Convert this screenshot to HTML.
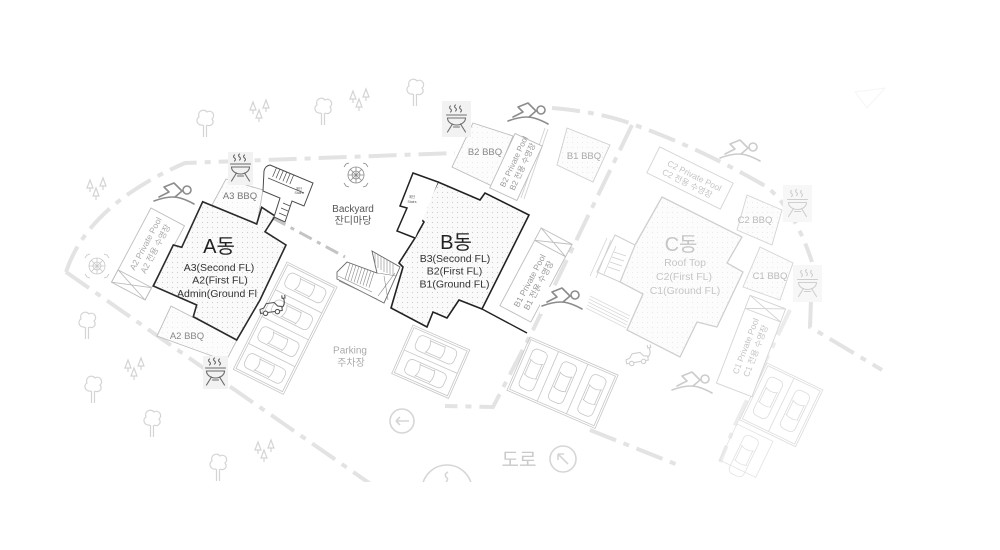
<!DOCTYPE html>
<html><head><meta charset="utf-8"><title>site plan</title>
<style>
html,body{margin:0;padding:0;background:#fff;width:1000px;height:550px;overflow:hidden}
svg{display:block}
text{font-family:"Liberation Sans","Noto Sans CJK KR",sans-serif}
</style></head><body>
<svg width="1000" height="550" viewBox="0 0 1000 550" xmlns="http://www.w3.org/2000/svg">
<defs>
 <pattern id="dots" width="5" height="5" patternUnits="userSpaceOnUse"><rect width="5" height="5" fill="#fafafa"/><circle cx="2.5" cy="2.5" r="0.6" fill="#cdcdcd"/></pattern>
 <pattern id="dotsL" width="5" height="5" patternUnits="userSpaceOnUse"><rect width="5" height="5" fill="#fcfcfc"/><circle cx="2.5" cy="2.5" r="0.5" fill="#e4e4e4"/></pattern>
 <clipPath id="clipAll"><rect x="0" y="0" width="1000" height="482"/></clipPath>
 <g id="bbq" fill="none" stroke-linecap="round">
  <path d="M-6,-13 q-2,1.5 0,3 q2,1.5 0,3 M-1,-14 q-2,1.5 0,3 q2,1.5 0,3 M4,-13 q-2,1.5 0,3 q2,1.5 0,3"/>
  <path d="M-10,-4 H10"/>
  <path d="M-9,-1 H9 A9,7 0 0 1 -9,-1 Z"/>
  <path d="M-4,5 L-9,13 M4,5 L9,13 M-3,8 L3,8"/>
 </g>
 <g id="swim" fill="none" stroke-linecap="round" stroke-linejoin="round">
  <circle cx="13" cy="-5" r="4"/>
  <path d="M-15,2 L-5,-3 L-10,-8 L0,-12 L8,-4 L1,2"/>
  <path d="M-20,6 Q-4,0 6,3 Q13,5 20,9"/>
 </g>
 <g id="tree" fill="none">
  <path d="M-2,3 C-8,4 -10,-3 -6,-5 C-8,-11 -1,-14 2,-10 C7,-13 11,-6 7,-3 C10,1 6,5 2,3"/>
  <path d="M-1.5,3 V15 M1.5,3 V15"/>
 </g>
 <g id="pines" fill="none">
  <path d="M-10,0 L-7,-8 L-4,0 Z M-7,0 V4 M3,-2 L6,-10 L9,-2 Z M6,-2 V2 M-4,8 L-1,0 L2,8 Z M-1,8 V12"/>
 </g>
 <g id="table" fill="none">
  <circle r="8"/><circle r="4"/>
  <path d="M-8,0 H8 M0,-8 V8 M-5.6,-5.6 L5.6,5.6 M-5.6,5.6 L5.6,-5.6"/>
  <path d="M-12,-8 L-10,-11 L-7,-12 M12,-8 L10,-11 L7,-12 M-12,8 L-10,11 L-7,12 M12,8 L10,11 L7,12"/>
 </g>
 <g id="ev" fill="none" stroke-linejoin="round">
  <path d="M-11,3 L-11,-1 L-7,-2 L-4,-6 L4,-6 L7,-2 L11,-1 L11,3 Z"/>
  <circle cx="-6" cy="3.5" r="2.2" fill="#fff"/><circle cx="6" cy="3.5" r="2.2" fill="#fff"/>
  <path d="M11,0 Q15,-2 14,-9 M12.5,-9 v-3 M15.5,-9 v-3 M12,-9 h4"/>
 </g>
 <g id="pcar" fill="none">
  <rect x="-21" y="-8" width="42" height="16" rx="5"/>
  <path d="M-9,-7 Q-5,0 -9,7 M7,-7 Q10,0 7,7 M-9,-6 H7 M-9,6 H7"/>
 </g>
</defs>

<g clip-path="url(#clipAll)">
<!-- boundaries -->
<g fill="none" stroke="#e3e3e3" stroke-width="4" stroke-dasharray="28 8 6 8">
 <path d="M66,272 Q88,205 185,163 L455,153"/>
 <path d="M66,272 L235,390 L372,485"/>
 <path d="M552,108 Q600,112 632,124 Q700,148 767,187 Q795,210 812,262"/>
 <path d="M811,300 L810,327 L882,370"/>
 <path d="M632,125 L533,330 L493,407 L445,406"/>
 <path d="M590,430 L683,467"/>
 <path d="M790,310 L735,425 L720,462" stroke="#ececec"/>
</g>
<path d="M273,218 L345,257" stroke="#c4c4c4" stroke-width="3" fill="none" stroke-dasharray="14 6 4 6"/>

<!-- trees -->
<g stroke="#d4d4d4" stroke-width="1.2">
 <use href="#tree" x="205" y="122"/>
 <use href="#tree" x="323" y="110"/>
 <use href="#tree" x="415" y="91"/>
 <use href="#tree" x="87" y="324"/>
 <use href="#tree" x="93" y="388"/>
 <use href="#tree" x="152" y="422"/>
 <use href="#tree" x="218" y="466"/>
 <use href="#pines" x="260" y="110"/>
 <use href="#pines" x="360" y="99"/>
 <use href="#pines" x="97" y="188"/>
 <use href="#pines" x="135" y="368"/>
 <use href="#pines" x="265" y="450"/>
</g>

<!-- parking lots -->
<g fill="none" stroke="#c6c6c6" stroke-width="0.8">
 <g transform="translate(287,262) rotate(26.6)">
  <rect x="0" y="0" width="56" height="120"/><rect x="2" y="2" width="52" height="116"/>
  <path d="M2,30 H54 M2,60 H54 M2,90 H54"/>
  <use href="#pcar" x="28" y="15"/><use href="#pcar" x="28" y="45"/><use href="#pcar" x="28" y="75"/><use href="#pcar" x="28" y="105"/>
 </g>
 <g transform="translate(413,325) rotate(23.7)">
  <rect x="0" y="0" width="62" height="53"/><rect x="2" y="2" width="58" height="49"/>
  <path d="M2,26.5 H60"/>
  <use href="#pcar" x="31" y="13.5"/><use href="#pcar" x="31" y="39.5"/>
 </g>
 <g transform="translate(530,337) rotate(23.4)">
  <rect x="0" y="0" width="96" height="58"/><rect x="2" y="2" width="92" height="54"/>
  <path d="M32,2 V56 M64,2 V56"/>
  <use href="#pcar" transform="translate(16,29) rotate(90)"/><use href="#pcar" transform="translate(48,29) rotate(90)"/><use href="#pcar" transform="translate(80,29) rotate(90)"/>
 </g>
 <g transform="translate(767,363) rotate(25.7)" stroke="#dcdcdc">
  <rect x="0" y="0" width="62" height="63"/><rect x="2" y="2" width="58" height="59"/>
  <path d="M31,2 V61"/>
  <use href="#pcar" transform="translate(16,31) rotate(90)"/><use href="#pcar" transform="translate(46,31) rotate(90)"/>
 </g>
 <g transform="translate(737,424) rotate(25.7)" stroke="#e2e2e2">
  <rect x="0" y="0" width="40" height="40"/>
  <use href="#pcar" transform="translate(20,26) rotate(90)"/>
 </g>
</g>

<!-- A side boxes -->
<g stroke="#bdbdbd" stroke-width="0.9">
 <polygon points="212,205 226,179 263,190 257,224" fill="url(#dotsL)"/>
 <polygon points="171,306 237,340 226,361 157,336" fill="url(#dotsL)"/>
 <g transform="translate(148,254) rotate(-62)">
  <rect x="-42" y="-19" width="84" height="38" fill="#fff"/>
  <path d="M-42,-19 H-28 V19 H-42 M-42,-19 L-28,19 M-42,19 L-28,-19" fill="none"/>
  <text x="8" y="-4" font-size="8.5" fill="#aaa" stroke="none" text-anchor="middle">A2 Private Pool</text>
  <text x="8" y="7" font-size="8.5" fill="#aaa" stroke="none" text-anchor="middle">A2 전용 수영장</text>
 </g>
</g>
<text x="240" y="199" font-size="9.5" fill="#777" text-anchor="middle">A3 BBQ</text>
<text x="187" y="339" font-size="9.5" fill="#888" text-anchor="middle">A2 BBQ</text>

<!-- B side boxes -->
<g stroke="#bdbdbd" stroke-width="0.9">
 <polygon points="473,123 513,136 492,186 452,167" fill="url(#dotsL)"/>
 <polygon points="567,128 610,145 593,182 557,165" fill="url(#dotsL)" stroke="#cfcfcf"/>
 <path d="M545,128 L521,198 M548,129 L524,199" stroke="#d2d2d2"/>
 <g transform="translate(516,167) rotate(-65)">
  <rect x="-30" y="-15" width="60" height="30" fill="#fff"/>
  <text x="4" y="-1.5" font-size="8" fill="#999" stroke="none" text-anchor="middle">B2 Private Pool</text>
  <text x="3" y="8.5" font-size="8" fill="#999" stroke="none" text-anchor="middle">B2 전용 수영장</text>
 </g>
 <g transform="translate(536,275) rotate(-62)">
  <rect x="-44" y="-17.5" width="88" height="35" fill="#fff"/>
  <path d="M30,-17.5 V17.5 M30,-17.5 L44,17.5 M30,17.5 L44,-17.5" fill="none"/>
  <text x="-8" y="0" font-size="8.5" fill="#999" stroke="none" text-anchor="middle">B1 Private Pool</text>
  <text x="-8" y="10" font-size="8.5" fill="#999" stroke="none" text-anchor="middle">B1 전용 수영장</text>
 </g>
</g>
<text x="485" y="155" font-size="9.5" fill="#888" text-anchor="middle">B2 BBQ</text>
<text x="584" y="159" font-size="9.5" fill="#aaa" text-anchor="middle">B1 BBQ</text>

<!-- C side boxes -->
<g stroke="#d4d4d4" stroke-width="0.9">
 <polygon points="747,195 782,210 772,245 737,230" fill="url(#dotsL)"/>
 <polygon points="760,247 793,263 780,300 743,287" fill="url(#dotsL)"/>
 <g transform="translate(690,178) rotate(26.3)">
  <rect x="-41" y="-14.5" width="82" height="29" fill="#fff"/>
  <text x="3" y="-1" font-size="8.5" fill="#c4c4c4" stroke="none" text-anchor="middle">C2 Private Pool</text>
  <text x="0" y="9" font-size="8.5" fill="#c4c4c4" stroke="none" text-anchor="middle">C2 전용 수영장</text>
 </g>
 <g transform="translate(751,346) rotate(-69)">
  <rect x="-47" y="-19" width="94" height="38" fill="#fff"/>
  <path d="M33,-19 V19 M33,-19 L47,19 M33,19 L47,-19" fill="none"/>
  <text x="-2" y="-2" font-size="8.5" fill="#c4c4c4" stroke="none" text-anchor="middle">C1 Private Pool</text>
  <text x="-3" y="9" font-size="8.5" fill="#c4c4c4" stroke="none" text-anchor="middle">C1 전용 수영장</text>
 </g>
</g>
<text x="755" y="223" font-size="9.5" fill="#bbb" text-anchor="middle">C2 BBQ</text>
<text x="770" y="279" font-size="9.5" fill="#bbb" text-anchor="middle">C1 BBQ</text>

<!-- C building -->
<g stroke="#cfcfcf" stroke-width="1.3">
 <polygon points="662,197 742,237 727,263 743,272 717,327 697,322 680,357 627,330 643,294 620,282 635,245" fill="url(#dotsL)"/>
 <polygon points="615,235 635,245 620,282 597,272" fill="#fff" stroke-width="1"/>
 <path d="M607,238 L590,276 M611,240 L596,278 M616,246 L604,274 M614,252 L626,256 M612,257 L624,261 M610,262 L622,266 M608,267 L620,271" fill="none" stroke-width="0.7"/>
 <path d="M590,296 L630,316 M589,299 L629,319 M588,302 L628,322 M587,305 L627,325 M586,308 L626,328" fill="none" stroke="#dadada" stroke-width="0.7"/>
</g>
<text x="681" y="251" font-size="20" fill="#c6c6c6" text-anchor="middle">C동</text>
<text x="685" y="266" font-size="10.5" fill="#c6c6c6" text-anchor="middle">Roof Top</text>
<text x="684" y="280" font-size="10.5" fill="#c6c6c6" text-anchor="middle">C2(First FL)</text>
<text x="685" y="294" font-size="10.5" fill="#c6c6c6" text-anchor="middle">C1(Ground FL)</text>

<!-- A building -->
<polygon points="202.7,201.7 256.7,224 261.7,207.3 275,216 265,231.7 286,245 260,300 236.7,340 193.3,316.7 196.7,305 153.3,286 173.3,245 181.7,247.3" fill="url(#dots)" stroke="#2a2a2a" stroke-width="1.6" stroke-linejoin="miter"/>
<text x="219" y="253" font-size="20" fill="#222" text-anchor="middle">A동</text>
<text x="219" y="271" font-size="10.5" fill="#333" text-anchor="middle">A3(Second FL)</text>
<text x="220" y="283.5" font-size="10.5" fill="#333" text-anchor="middle">A2(First FL)</text>
<text x="177" y="297" font-size="10.5" fill="#333">Admin(Ground Fl</text>

<!-- A3 stair -->
<g stroke="#4a4a4a" stroke-width="1" fill="#fff">
 <path d="M270,165 L313,183 L304,206 L292,201 L285,222 L274,217 L280,198 L263,191 L264,171 Q265,166 270,165 Z"/>
 <path d="M276.5,167.7 L272.6,176.9 M279.9,169.1 L276,178.3 M283.3,170.6 L279.4,179.8 M286.8,172 L282.9,181.2 M290.2,173.5 L286.3,182.7 M293.7,174.9 L289.8,184.1 M268,178 L304,193 M283,203 L290,206 M281,208 L288,211 M279,213 L286,216" fill="none" stroke-width="0.7"/>
</g>
<text x="299" y="190" font-size="3.5" fill="#555" text-anchor="middle">계단</text>
<text x="299" y="194" font-size="3.5" fill="#555" text-anchor="middle">Stairs</text>

<!-- stairs between A and B -->
<g stroke="#666" stroke-width="0.9" fill="#fff">
 <polygon points="372,251 400,267 384,303 337,279 337,272 347,262 377,273"/>
 <g fill="none" stroke="#888" stroke-width="0.6">
  <path d="M350,263.1 L345,279.1 M353,264.1 L348,280.1 M356,265.2 L351,281.2 M359,266.3 L354,282.3 M362,267.3 L357,283.3 M365,268.4 L360,284.4 M368,269.5 L363,285.5 M371,270.5 L366,286.5 M374,271.6 L369,287.6"/>
  <path d="M338,276 L372,292 M339,281 L377,299"/>
  <path d="M375,252.7 V266 M378,254.4 V268 M381,256.1 V270 M384,257.9 V272 M387,259.6 V273 M390,261.3 V274 M393,263 V275"/>
  <path d="M377,273 L397,276 M378,296 L395,273 M384,276 L388,300"/>
 </g>
</g>

<!-- B building -->
<path d="M438,182 L480,200 L485,193 L529,215 L482,309 L459,300 L447,318 L433,312 L427,327 L391,308 L403,267 L399,263 L415,238 L424,222 L420,218 Z" fill="url(#dots)" stroke="#222" stroke-width="1.6"/>
<path d="M438,182 L413,173 L400,206 L407,208 L397,231 L415,238" fill="#fff" stroke="#222" stroke-width="1.5"/>
<path d="M482,309 L527,333" stroke="#222" stroke-width="1.4" fill="none"/>
<text x="412" y="198" font-size="3.5" fill="#555" text-anchor="middle">계단</text>
<text x="412" y="203" font-size="3.5" fill="#555" text-anchor="middle">Stairs</text>
<text x="456" y="249" font-size="20" fill="#222" text-anchor="middle">B동</text>
<text x="455" y="262" font-size="10.5" fill="#333" text-anchor="middle">B3(Second FL)</text>
<text x="454.5" y="274.5" font-size="10.5" fill="#333" text-anchor="middle">B2(First FL)</text>
<text x="454.5" y="287.5" font-size="10.5" fill="#333" text-anchor="middle">B1(Ground FL)</text>

<!-- labels -->
<text x="353" y="212" font-size="10" fill="#555" text-anchor="middle">Backyard</text>
<text x="353" y="224" font-size="10" fill="#555" text-anchor="middle">잔디마당</text>
<text x="350" y="353.5" font-size="10" fill="#aaa" text-anchor="middle">Parking</text>
<text x="351" y="366" font-size="10" fill="#aaa" text-anchor="middle">주차장</text>
<text x="519" y="466" font-size="19" fill="#cacaca" text-anchor="middle">도로</text>

<!-- circle arrows -->
<g fill="none" stroke="#d6d6d6" stroke-width="1.6">
 <circle cx="402" cy="421" r="12"/>
 <path d="M396,421 H409 M396,421 L400,417 M396,421 L400,425"/>
 <circle cx="563" cy="459" r="13"/>
 <path d="M558,454 L568,464 M558,454 H564 M558,454 V460"/>
 <circle cx="447" cy="490" r="25"/>
 <path d="M448,472 q-4,2 -2,5 q3,2 0,5"/>
</g>

<!-- picnic tables -->
<g stroke="#8a8a8a" stroke-width="0.8">
 <use href="#table" x="356" y="175"/>
</g>
<g stroke="#c8c8c8" stroke-width="0.8">
 <use href="#table" x="97" y="266"/>
</g>

<!-- EV cars -->
<g stroke="#555" stroke-width="1.1"><use href="#ev" transform="translate(271,309) rotate(-8)"/></g>
<g stroke="#cfcfcf" stroke-width="1.1"><use href="#ev" transform="translate(637,359) rotate(-10)"/></g>

<!-- BBQ icons -->
<rect x="228" y="152" width="25" height="33" fill="#f2f2f2"/>
<g stroke="#6a6a6a" stroke-width="1.1"><use href="#bbq" x="240.5" y="168"/></g>
<rect x="203" y="356" width="25" height="33" fill="#f2f2f2"/>
<g stroke="#6a6a6a" stroke-width="1.1"><use href="#bbq" x="215.5" y="372"/></g>
<rect x="442" y="101" width="29" height="36" fill="#f2f2f2"/>
<g stroke="#707070" stroke-width="1.1"><use href="#bbq" x="456.5" y="119"/></g>
<rect x="783" y="185" width="29" height="37" fill="#f7f7f7"/>
<g stroke="#cfcfcf" stroke-width="1.1"><use href="#bbq" x="797.5" y="203.5"/></g>
<rect x="793" y="265" width="29" height="37" fill="#f7f7f7"/>
<g stroke="#cfcfcf" stroke-width="1.1"><use href="#bbq" x="807.5" y="283.5"/></g>

<!-- swimmers -->
<g stroke="#8c8c8c" stroke-width="1.6"><use href="#swim" x="174" y="195"/></g>
<g stroke="#8c8c8c" stroke-width="1.6"><use href="#swim" x="528" y="115"/></g>
<rect x="540" y="287" width="46" height="27" fill="#fff"/>
<g stroke="#8c8c8c" stroke-width="1.6"><use href="#swim" x="562" y="300"/></g>
<g stroke="#cccccc" stroke-width="1.6"><use href="#swim" x="740" y="152"/></g>
<g stroke="#cccccc" stroke-width="1.6"><use href="#swim" x="692" y="384"/></g>

<!-- faint top-right mark -->
<path d="M855,92 L885,88 L867,108 Z" fill="none" stroke="#f5f5f5" stroke-width="1"/>
</g>
</svg>
</body></html>
